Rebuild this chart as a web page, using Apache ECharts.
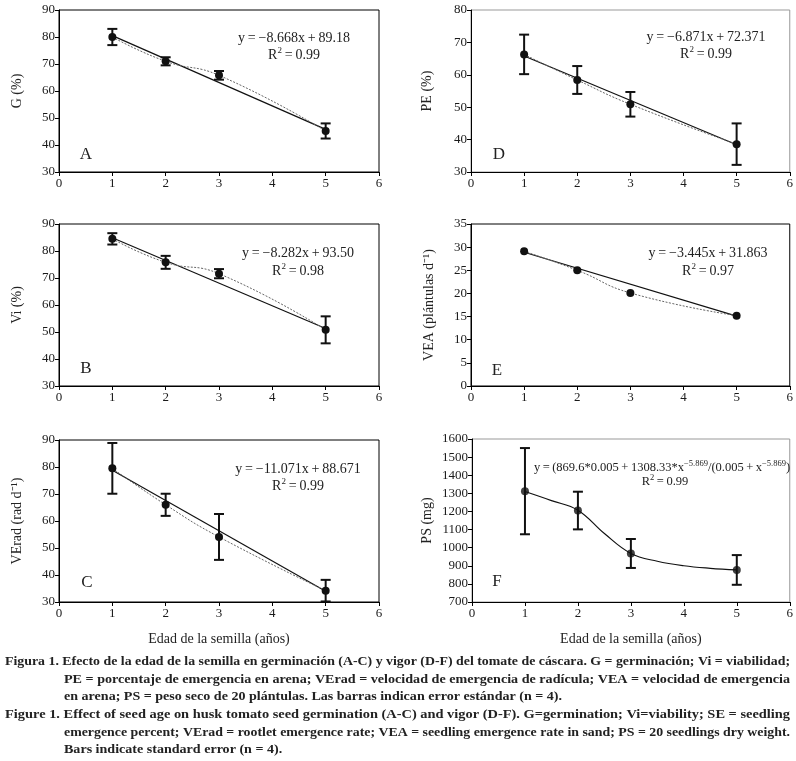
<!DOCTYPE html>
<html>
<head>
<meta charset="utf-8">
<script src="https://cdn.jsdelivr.net/npm/echarts@6/dist/echarts.min.js"></script>
<style>
html,body{margin:0;padding:0;background:#fff;}
#main{width:796px;height:761px;}
</style>
</head>
<body>
<div id="main"></div>
<script>
// ---------- data ----------
var ages = [1, 2, 3, 5];
var xTicks = [0, 1, 2, 3, 4, 5, 6];

var gMean = [80.0, 71.0, 65.8, 45.2];
var gErr = [3.0, 1.5, 1.6, 2.8];
var gFit = [[1, 80.5], [5, 45.8]];

var viMean = [84.5, 75.8, 71.6, 50.8];
var viErr = [2.1, 2.4, 1.7, 5.0];
var viFit = [[1, 84.9], [5, 51.3]];

var verMean = [79.5, 66.0, 54.1, 34.2];
var verErr = [9.4, 4.1, 8.5, 4.0];
var verFit = [[1, 78.8], [5, 34.0]];

var peMean = [66.3, 58.4, 50.9, 38.6];
var peErr = [6.1, 4.3, 3.8, 6.4];
var peFit = [[1, 65.8], [5, 38.4]];

var veaMean = [29.1, 25.0, 20.1, 15.2];
var veaFit = [[1, 28.9], [5, 15.1]];

var psMean = [1312, 1205, 968, 877];
var psErr = [238, 104, 80, 82];
var psCurveX = [1, 1.5, 2, 2.5, 3, 3.5, 4, 4.5, 5];
var psCurveY = [1310, 1260, 1207, 1078, 968, 925, 900, 886, 877];

var panelLetters = ['A', 'D', 'B', 'E', 'C', 'F'];
var yNames = ['G (%)', 'PE (%)', 'Vi (%)', 'VEA (plántulas d\u207B\u00B9)', 'VErad (rad d\u207B\u00B9)', 'PS (mg)'];
var xName = 'Edad de la semilla (años)';

var captionLines = [
  'Figura 1. Efecto de la edad de la semilla en germinación (A-C) y vigor (D-F) del tomate de cáscara. G = germinación; Vi = viabilidad;',
  'PE = porcentaje de emergencia en arena; VErad = velocidad de emergencia de radícula; VEA = velocidad de emergencia',
  'en arena; PS = peso seco de 20 plántulas. Las barras indican error estándar (n = 4).',
  'Figure 1. Effect of seed age on husk tomato seed germination (A-C) and vigor (D-F). G=germination; Vi=viability; SE = seedling',
  'emergence percent; VErad = rootlet emergence rate; VEA = seedling emergence rate in sand; PS = 20 seedlings dry weight.',
  'Bars indicate standard error (n = 4).'
];

// ---------- layout ----------
var FONT = '"Liberation Serif", "Times New Roman", serif';
var grids = [
  {left: 59, top: 10, width: 320, height: 162, border: '#000'},   // A
  {left: 471, top: 10, width: 320, height: 162, border: '#999'},  // D
  {left: 59, top: 224, width: 320, height: 162, border: '#000'},  // B
  {left: 471, top: 224, width: 320, height: 162, border: '#000'}, // E
  {left: 59, top: 440, width: 320, height: 162, border: '#000'},  // C
  {left: 472, top: 439, width: 320, height: 163, border: '#999'}  // F
];
var yRanges = [
  [30, 90, 10], [30, 80, 10], [30, 90, 10], [0, 35, 5], [30, 90, 10], [700, 1600, 100]
];
var nameGaps = [35, 37, 35, 35, 35, 38];

var option = {
  animation: false,
  backgroundColor: '#fff',
  textStyle: {fontFamily: FONT},
  grid: grids.map(function (g) {
    return {left: g.left, top: g.top, width: g.width, height: g.height,
      show: true, borderColor: g.border, borderWidth: 1, backgroundColor: 'transparent'};
  }),
  xAxis: grids.map(function (g, i) {
    return {
      type: 'value', gridIndex: i, min: 0, max: 6, interval: 1,
      name: (i >= 4 ? xName : ''), nameLocation: 'middle', nameGap: 30,
      nameTextStyle: {fontFamily: FONT, fontSize: 14, color: '#222'},
      axisLine: {show: true, onZero: false, lineStyle: {color: '#000', width: 1}},
      axisTick: {show: true, inside: false, length: 4, lineStyle: {color: '#000'}},
      axisLabel: {fontFamily: FONT, fontSize: 13, color: '#1a1a1a', margin: 5,
        formatter: function (v) { return String(v); }},
      splitLine: {show: false}
    };
  }),
  yAxis: grids.map(function (g, i) {
    return {
      type: 'value', gridIndex: i, min: yRanges[i][0], max: yRanges[i][1], interval: yRanges[i][2],
      name: yNames[i], nameLocation: 'middle', nameRotate: 90,
      nameGap: nameGaps[i],
      nameTextStyle: {fontFamily: FONT, fontSize: 14, color: '#222'},
      axisLine: {show: true, onZero: false, lineStyle: {color: '#000', width: 1}},
      axisTick: {show: true, inside: false, length: 4, lineStyle: {color: '#000'}},
      axisLabel: {fontFamily: FONT, fontSize: 13, color: '#1a1a1a', margin: 4,
        formatter: function (v) { return String(v); }},
      splitLine: {show: false}
    };
  }),
  series: [],
  graphic: []
};

function errSeries(idx, mean, err) {
  return {
    type: 'custom', xAxisIndex: idx, yAxisIndex: idx, z: 2,
    data: ages.map(function (a, k) { return [a, mean[k], err[k]]; }),
    renderItem: function (params, api) {
      var x = api.value(0), m = api.value(1), e = api.value(2);
      var t = api.coord([x, m + e]), b = api.coord([x, m - e]);
      var w = 5;
      var st = {stroke: '#111', lineWidth: 2};
      return {type: 'group', children: [
        {type: 'line', shape: {x1: t[0], y1: t[1], x2: b[0], y2: b[1]}, style: st},
        {type: 'line', shape: {x1: t[0] - w, y1: t[1], x2: t[0] + w, y2: t[1]}, style: st},
        {type: 'line', shape: {x1: b[0] - w, y1: b[1], x2: b[0] + w, y2: b[1]}, style: st}
      ]};
    }
  };
}
function dataSeries(idx, mean) {
  return {
    type: 'line', xAxisIndex: idx, yAxisIndex: idx, z: 4, smooth: 0.5,
    data: ages.map(function (a, k) { return [a, mean[k]]; }),
    symbol: 'circle', symbolSize: 8,
    itemStyle: {color: '#111'},
    lineStyle: {color: '#666', width: 1, type: [2, 1.5]}
  };
}
function fitSeries(idx, pts) {
  return {
    type: 'line', xAxisIndex: idx, yAxisIndex: idx, z: 3,
    data: pts, symbol: 'none',
    lineStyle: {color: '#111', width: 1.2}
  };
}

// A (0)
option.series.push(errSeries(0, gMean, gErr), fitSeries(0, gFit), dataSeries(0, gMean));
// D (1)
option.series.push(errSeries(1, peMean, peErr), fitSeries(1, peFit), dataSeries(1, peMean));
// B (2)
option.series.push(errSeries(2, viMean, viErr), fitSeries(2, viFit), dataSeries(2, viMean));
// E (3)
option.series.push(fitSeries(3, veaFit), dataSeries(3, veaMean));
// C (4)
option.series.push(errSeries(4, verMean, verErr), fitSeries(4, verFit), dataSeries(4, verMean));
// F (5)
option.series.push(errSeries(5, psMean, psErr));
option.series.push({
  type: 'line', xAxisIndex: 5, yAxisIndex: 5, z: 3, smooth: 0.4, symbol: 'none',
  data: psCurveX.map(function (x, k) { return [x, psCurveY[k]]; }),
  lineStyle: {color: '#111', width: 1.2}
});
option.series.push({
  type: 'scatter', xAxisIndex: 5, yAxisIndex: 5, z: 4, symbol: 'circle', symbolSize: 8,
  data: ages.map(function (a, k) { return [a, psMean[k]]; }),
  itemStyle: {color: '#111'}
});

// ---------- texts ----------
function txt(x, y, s, size, extra) {
  var o = {type: 'text', x: x, y: y, z: 10,
    style: {text: s, fontFamily: FONT, fontSize: size, fill: '#222', textAlign: 'center', textVerticalAlign: 'middle'}};
  if (extra) { for (var k in extra) o.style[k] = extra[k]; }
  return o;
}
var letterPos = [[86, 155], [499, 155], [86, 369], [497, 371], [87, 583], [497, 582]];
letterPos.forEach(function (p, i) { option.graphic.push(txt(p[0], p[1], panelLetters[i], 17)); });

var eqs = [
  ['y = \u22128.668x + 89.18', 294, 38],
  ['y = \u22126.871x + 72.371', 706, 37],
  ['y = \u22128.282x + 93.50', 298, 253],
  ['y = \u22123.445x + 31.863', 708, 253],
  ['y = \u221211.071x + 88.671', 298, 469]
];
var r2s = [['0.99', 294, 54], ['0.99', 706, 53], ['0.98', 298, 270], ['0.97', 708, 270], ['0.99', 298, 485]];
eqs.forEach(function (e) { option.graphic.push(txt(e[1], e[2], e[0].replace(/ /g, '\u2009'), 14)); });
r2s.forEach(function (r) {
  option.graphic.push(txt(r[1], r[2], '{n|R}{s|2}{n|\u2009=\u2009' + r[0] + '}', 14, {
    rich: {n: {fontFamily: FONT, fontSize: 14, fill: '#222', lineHeight: 16, verticalAlign: 'bottom'},
           s: {fontFamily: FONT, fontSize: 9, fill: '#222', lineHeight: 16, verticalAlign: 'top'}}
  }));
});
// F equation
option.graphic.push(txt(662, 467,
  '{n|y\u2009=\u2009(869.6*0.005\u2009+\u20091308.33*x}{s|\u22125.869}{n|/(0.005\u2009+\u2009x}{s|\u22125.869}{n|)}', 12.5, {
  rich: {n: {fontFamily: FONT, fontSize: 12.5, fill: '#222', lineHeight: 15, verticalAlign: 'bottom'},
         s: {fontFamily: FONT, fontSize: 8.5, fill: '#222', lineHeight: 15, verticalAlign: 'top'}}
}));
option.graphic.push(txt(665, 481, '{n|R}{s|2}{n|\u2009=\u20090.99}', 12.5, {
  rich: {n: {fontFamily: FONT, fontSize: 12.5, fill: '#222', lineHeight: 15, verticalAlign: 'bottom'},
         s: {fontFamily: FONT, fontSize: 8.5, fill: '#222', lineHeight: 15, verticalAlign: 'top'}}
}));

// caption
var capFont = 'bold 13px "Liberation Serif"';
var cv = document.createElement('canvas').getContext('2d');
cv.font = capFont;
var capStarts = [5, 64, 64, 5, 64, 64];
var capY = [662, 680, 697, 715, 733, 750];
var capJust = [true, true, false, true, true, false];
var scales = [];
captionLines.forEach(function (s, i) {
  var w = cv.measureText(s).width;
  scales.push((790 - capStarts[i]) / w);
});
var avgScale = (scales[0] + scales[1] + scales[3] + scales[4]) / 4;
captionLines.forEach(function (s, i) {
  var sc = capJust[i] ? scales[i] : avgScale;
  option.graphic.push({
    type: 'text', x: capStarts[i], y: capY[i], scaleX: sc, z: 10,
    style: {text: s, fontFamily: '"Liberation Serif"', fontWeight: 'bold', fontSize: 13, fill: '#222',
      textAlign: 'left', textVerticalAlign: 'middle'}
  });
});

var chart = echarts.init(document.getElementById('main'), null, {renderer: 'canvas'});
chart.setOption(option);
</script>
</body>
</html>
